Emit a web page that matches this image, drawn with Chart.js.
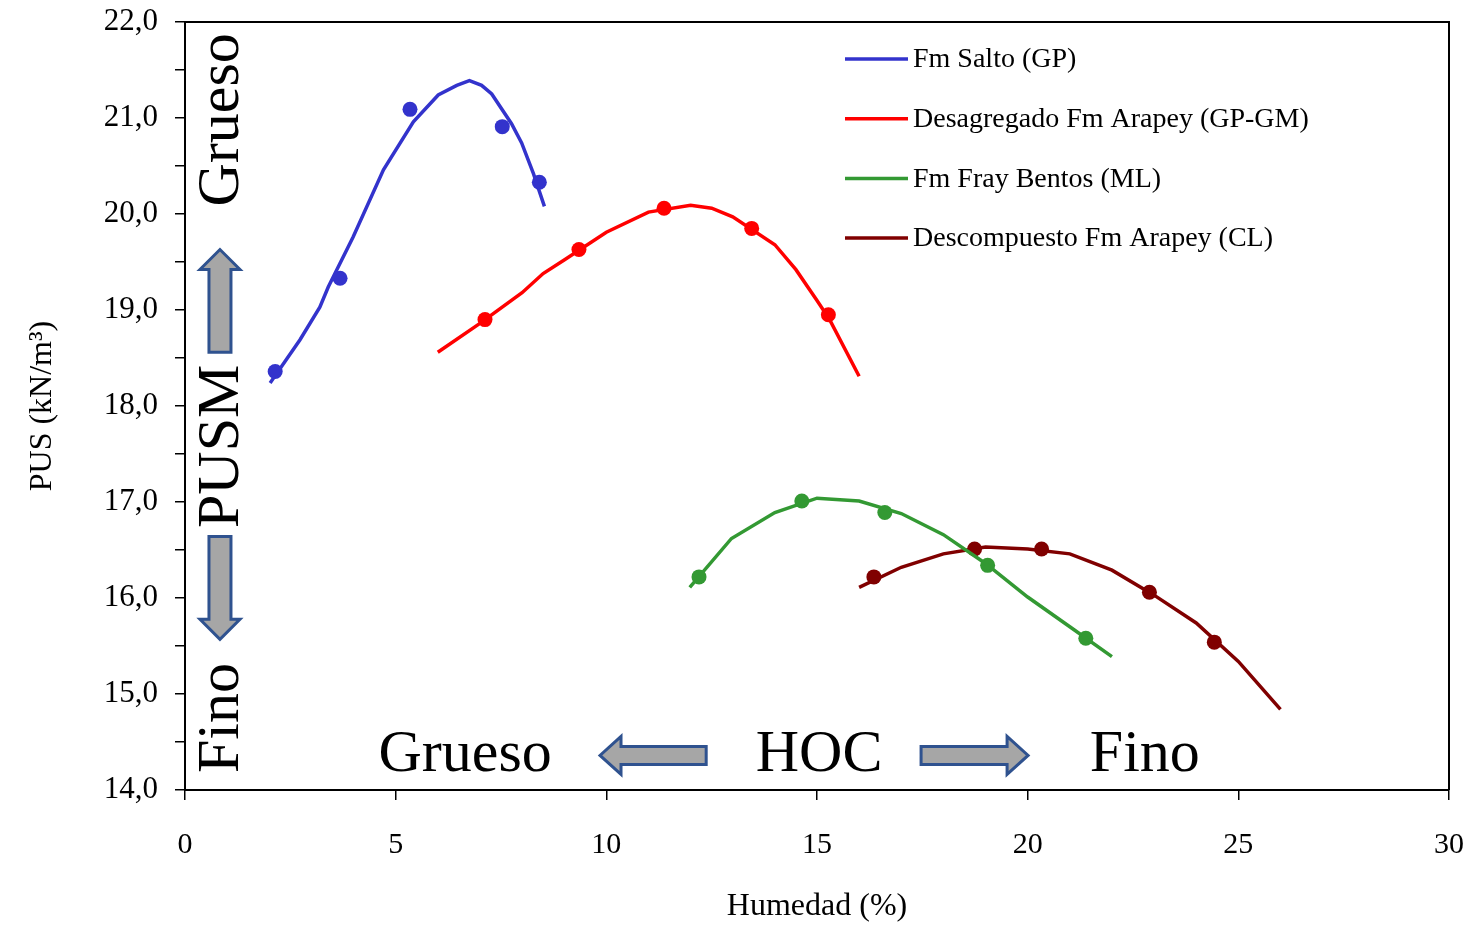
<!DOCTYPE html>
<html lang="es">
<head>
  <meta charset="UTF-8">
  <title>PUS vs Humedad</title>
  <script src="https://cdn.jsdelivr.net/npm/chart.js"></script>
  <style>
    body { margin: 0; background: #fff; }
    canvas { display: block; }
  </style>
</head>
<body>
  <canvas id="chart" width="1474" height="926"></canvas>

  <script>
    // series names and colours
    const seriesNames = ['Fm Salto (GP)', 'Desagregado Fm Arapey (GP-GM)', 'Fm Fray Bentos (ML)', 'Descompuesto Fm Arapey (CL)'];
    const seriesColors = ['#3333cc', '#ff0000', '#339933', '#800000'];

    // Fm Salto: measured points and fitted curve
    const saltoHum = [2.14, 3.68, 5.34, 7.53, 8.41];
    const saltoPus = [18.36, 19.33, 21.09, 20.91, 20.33];
    const saltoCurveHum = [2.02, 2.18, 2.73, 3.20, 3.40, 3.99, 4.71, 5.42, 6.01, 6.45, 6.75, 7.04, 7.28, 7.75, 7.99, 8.27, 8.53];
    const saltoCurvePus = [18.24, 18.34, 18.69, 19.03, 19.24, 19.76, 20.46, 20.96, 21.24, 21.34, 21.39, 21.34, 21.25, 20.94, 20.74, 20.42, 20.08];

    // Desagregado Fm Arapey
    const desagHum = [7.12, 9.35, 11.37, 13.45, 15.27];
    const desagPus = [18.90, 19.63, 20.06, 19.85, 18.95];
    const desagCurveHum = [6.0, 7.0, 8.0, 8.5, 9.0, 10.0, 11.0, 12.0, 12.5, 13.0, 14.0, 14.5, 15.0, 15.3, 16.0];
    const desagCurvePus = [18.56, 18.86, 19.18, 19.38, 19.52, 19.81, 20.02, 20.09, 20.06, 19.97, 19.68, 19.42, 19.10, 18.90, 18.31];

    // Fm Fray Bentos
    const frayHum = [12.20, 14.64, 16.61, 19.05, 21.38];
    const frayPus = [16.22, 17.01, 16.89, 16.34, 15.58];
    const frayCurveHum = [11.98, 12.97, 14.0, 15.0, 16.0, 17.0, 18.0, 19.0, 20.0, 21.0, 22.0];
    const frayCurvePus = [16.11, 16.62, 16.89, 17.04, 17.01, 16.88, 16.66, 16.36, 16.01, 15.70, 15.39];

    // Descompuesto Fm Arapey
    const descHum = [16.35, 18.74, 20.33, 22.89, 24.43];
    const descPus = [16.22, 16.51, 16.51, 16.06, 15.54];
    const descCurveHum = [16.0, 17.0, 18.0, 19.0, 20.0, 21.0, 22.0, 23.0, 24.0, 25.0, 26.0];
    const descCurvePus = [16.11, 16.32, 16.46, 16.53, 16.51, 16.46, 16.29, 16.03, 15.74, 15.34, 14.84];

    const pointSets = [[saltoHum, saltoPus], [desagHum, desagPus], [frayHum, frayPus], [descHum, descPus]];
    const curveSets = [[saltoCurveHum, saltoCurvePus], [desagCurveHum, desagCurvePus], [frayCurveHum, frayCurvePus], [descCurveHum, descCurvePus]];

    const toXY = (xs, ys) => xs.map((x, i) => ({ x: x, y: ys[i] }));

    const datasets = [];
    curveSets.forEach((c, i) => {
      datasets.push({
        label: seriesNames[i],
        data: toXY(c[0], c[1]),
        showLine: true,
        borderColor: seriesColors[i],
        borderWidth: 3.5,
        pointRadius: 0,
        tension: 0
      });
    });
    pointSets.forEach((p, i) => {
      datasets.push({
        label: seriesNames[i] + ' puntos',
        data: toXY(p[0], p[1]),
        showLine: false,
        backgroundColor: seriesColors[i],
        borderWidth: 0,
        pointRadius: 7.5
      });
    });

    const serif = 'Liberation Serif, Times New Roman, serif';

    function drawArrow(ctx, x0, y0, x1, y1, shaftW, headW, headL) {
      // block arrow from (x0,y0) to tip (x1,y1)
      const len = Math.hypot(x1 - x0, y1 - y0);
      const ang = Math.atan2(y1 - y0, x1 - x0);
      ctx.save();
      ctx.translate(x0, y0);
      ctx.rotate(ang);
      ctx.beginPath();
      ctx.moveTo(0, -shaftW / 2);
      ctx.lineTo(len - headL, -shaftW / 2);
      ctx.lineTo(len - headL, -headW / 2);
      ctx.lineTo(len, 0);
      ctx.lineTo(len - headL, headW / 2);
      ctx.lineTo(len - headL, shaftW / 2);
      ctx.lineTo(0, shaftW / 2);
      ctx.closePath();
      ctx.fillStyle = '#a6a6a6';
      ctx.fill();
      ctx.lineWidth = 3;
      ctx.strokeStyle = '#2f528f';
      ctx.stroke();
      ctx.restore();
    }

    const extras = {
      id: 'extras',
      afterDraw(chart) {
        const ctx = chart.ctx;
        const a = chart.chartArea;
        const xs = chart.scales.x, ys = chart.scales.y;

        // frame top and right
        ctx.save();
        ctx.strokeStyle = '#000';
        ctx.lineWidth = 2;
        ctx.beginPath();
        ctx.moveTo(a.left, a.top);
        ctx.lineTo(a.right, a.top);
        ctx.lineTo(a.right, a.bottom);
        ctx.stroke();

        // legend
        ctx.font = '28px ' + serif;
        ctx.textBaseline = 'middle';
        ctx.textAlign = 'left';
        ctx.fillStyle = '#000';
        seriesNames.forEach((name, i) => {
          const y = 59 + i * 59.7;
          ctx.strokeStyle = seriesColors[i];
          ctx.lineWidth = 3.5;
          ctx.beginPath();
          ctx.moveTo(845, y);
          ctx.lineTo(908, y);
          ctx.stroke();
          ctx.fillText(name, 913, y + 1);
        });

        // side notes (vertical)
        ctx.font = '60px ' + serif;
        ctx.textAlign = 'center';
        ctx.textBaseline = 'middle';
        const cx = xs.getPixelForValue(0.83);
        [['Grueso', 20.98], ['PUSM', 17.58], ['Fino', 14.75]].forEach(t => {
          ctx.save();
          ctx.translate(cx + 2, ys.getPixelForValue(t[1]));
          ctx.rotate(-Math.PI / 2);
          ctx.fillText(t[0], 0, 0);
          ctx.restore();
        });
        drawArrow(ctx, cx, ys.getPixelForValue(18.56), cx, ys.getPixelForValue(19.63), 22, 40, 20);
        drawArrow(ctx, cx, ys.getPixelForValue(16.64), cx, ys.getPixelForValue(15.57), 22, 40, 20);

        // bottom notes
        const by = ys.getPixelForValue(14.36);
        [['Grueso', 6.65], ['HOC', 15.05], ['Fino', 22.78]].forEach(t => {
          ctx.fillText(t[0], xs.getPixelForValue(t[1]), by);
        });
        drawArrow(ctx, xs.getPixelForValue(12.37), by, xs.getPixelForValue(9.85), by, 18, 38, 21);
        drawArrow(ctx, xs.getPixelForValue(17.47), by, xs.getPixelForValue(20.01), by, 18, 38, 21);
        ctx.restore();
      }
    };

    new Chart(document.getElementById('chart'), {
      type: 'scatter',
      data: { datasets: datasets },
      plugins: [extras],
      options: {
        responsive: false,
        animation: false,
        layout: { padding: { top: 22, right: 25, left: 0, bottom: 0 } },
        plugins: { legend: { display: false }, tooltip: { enabled: false } },
        scales: {
          x: {
            type: 'linear',
            min: 0, max: 30,
            ticks: { stepSize: 5, color: '#000', padding: 27, font: { family: serif, size: 30 } },
            grid: { drawOnChartArea: false, drawTicks: true, tickLength: 10, color: '#000', lineWidth: 1.5 },
            border: { color: '#000', width: 2 },
            title: { display: true, text: 'Humedad (%)', color: '#000', font: { family: serif, size: 32 }, padding: { top: 0, bottom: 0 } },
            afterFit(s) { s.height = 136; s.paddingLeft = 0; s.paddingRight = 0; }
          },
          y: {
            type: 'linear',
            min: 14, max: 22,
            ticks: {
              stepSize: 0.5, autoSkip: false, color: '#000', padding: 17,
              font: { family: serif, size: 31 },
              callback: v => Number.isInteger(v) ? v.toFixed(1).replace('.', ',') : ''
            },
            grid: { drawOnChartArea: false, drawTicks: true, tickLength: 10, color: '#000', lineWidth: 1.5 },
            border: { color: '#000', width: 2 },
            title: { display: true, text: 'PUS (kN/m³)', color: '#000', font: { family: serif, size: 32 }, padding: { top: 23, bottom: 0 } },
            afterFit(s) { s.width = 185; s.paddingTop = 0; s.paddingBottom = 0; }
          }
        }
      }
    });
  </script>
</body>
</html>
